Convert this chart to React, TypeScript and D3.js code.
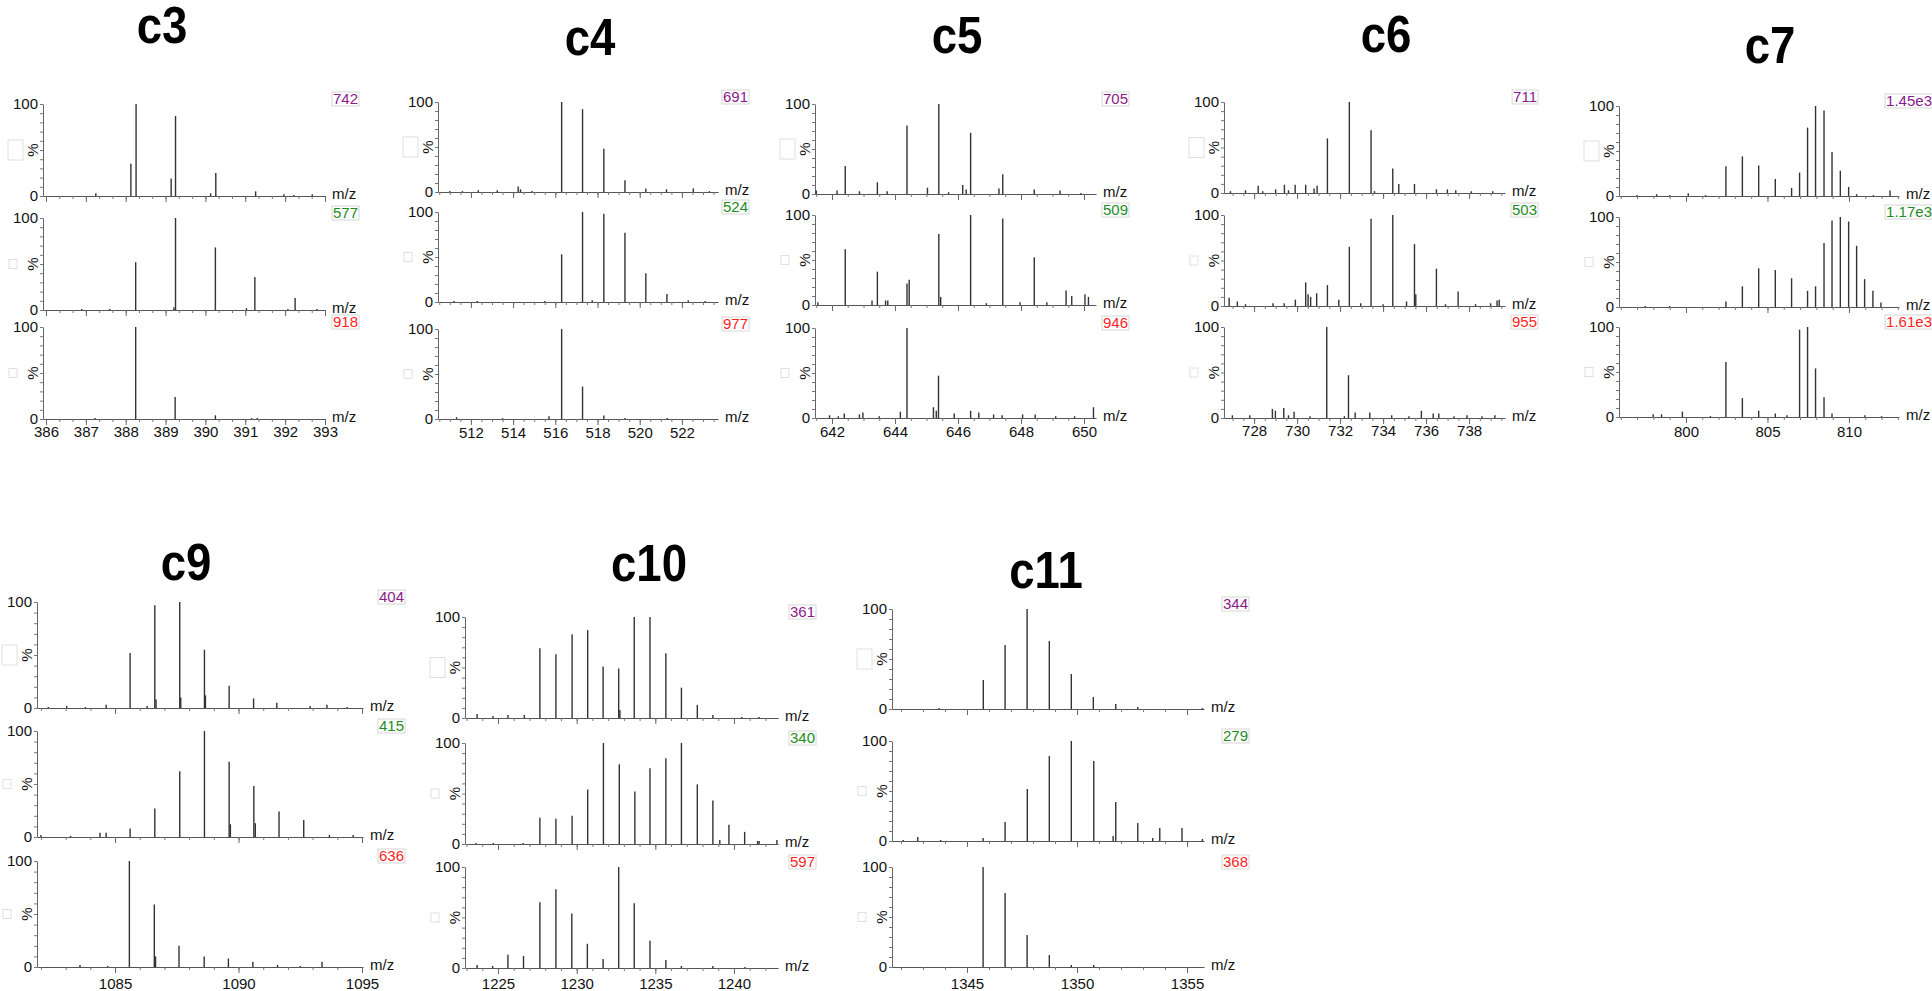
import React, { useEffect, useRef } from "react";
import * as d3 from "d3";

type Peak = [number, number];

// peak lists [m/z, relative intensity %]
const c3Top: Peak[] = [[387.25, 3], [388.13, 35], [388.26, 100], [389.14, 19], [389.25, 87], [390.13, 3], [390.26, 25], [391.26, 5], [391.97, 2], [392.22, 1], [392.68, 2]];
const c3Mid: Peak[] = [[386.9, 1], [387.6, 1], [388.25, 52], [389.21, 3], [389.25, 100], [390.25, 68], [391.03, 2], [391.24, 36], [392.07, 1], [392.25, 13], [392.8, 1]];
const c3Bot: Peak[] = [[387.23, 1], [388.25, 100], [389.24, 24], [390.25, 4], [391.16, 1], [391.3, 1]];

const c4Top: Peak[] = [[511.0, 1], [511.6, 1], [512.35, 2], [513.25, 2], [514.24, 6], [514.35, 3], [514.9, 1], [516.3, 100], [517.29, 92], [518.3, 48], [519.3, 13], [520.29, 4], [521.27, 3], [522.54, 4], [523.3, 1]];
const c4Mid: Peak[] = [[511.2, 1], [512.3, 1], [515.5, 1], [516.3, 53], [517.29, 100], [517.75, 2], [518.3, 98], [519.3, 77], [520.29, 32], [521.29, 9], [522.3, 2], [523.1, 1]];
const c4Bot: Peak[] = [[511.32, 2], [513.5, 1], [515.7, 3], [516.3, 100], [517.29, 36], [518.3, 4], [519.3, 1], [521.3, 1]];

const c5Top: Peak[] = [[641.5, 4], [642.16, 4], [642.42, 31], [642.87, 3], [643.44, 13], [643.75, 3], [644.38, 76], [645.03, 7], [645.39, 100], [645.7, 2], [646.15, 10], [646.26, 5], [646.4, 68], [647.3, 6], [647.42, 22], [648.42, 5], [649.24, 4], [649.9, 1]];
const c5Mid: Peak[] = [[641.55, 3], [642.42, 62], [643.27, 5], [643.44, 37], [643.7, 5], [643.77, 5], [644.38, 24], [644.45, 28], [645.39, 79], [645.45, 9], [646.4, 100], [646.9, 2], [647.42, 96], [647.97, 3], [648.42, 53], [648.82, 3], [649.43, 16], [649.61, 10], [650.03, 12], [650.14, 9]];
const c5Bot: Peak[] = [[641.92, 3], [642.2, 2], [642.39, 5], [642.87, 4], [642.98, 6], [643.5, 2], [644.17, 7], [644.38, 100], [645.22, 12], [645.31, 8], [645.38, 47], [645.88, 5], [646.4, 8], [646.66, 6], [647.13, 4], [647.4, 3], [648.05, 4], [648.45, 4], [649.1, 2], [649.7, 2], [650.3, 12]];

const c6Top: Peak[] = [[726.9, 2], [727.6, 3], [728.19, 8], [728.4, 2], [729.0, 4], [729.41, 9], [729.6, 3], [729.91, 9], [730.4, 9], [730.79, 5], [730.93, 8], [731.41, 60], [732.43, 100], [733.44, 69], [733.6, 2], [734.45, 27], [734.73, 10], [735.46, 10], [736.48, 4], [736.99, 4], [737.38, 3], [738.1, 2], [739.1, 2]];
const c6Mid: Peak[] = [[726.84, 9], [727.22, 5], [727.6, 2], [728.88, 3], [729.4, 3], [729.92, 7], [730.4, 26], [730.51, 13], [730.63, 10], [730.91, 14], [731.41, 23], [731.94, 7], [732.43, 65], [732.96, 3], [733.44, 96], [734.0, 2], [734.45, 100], [735.09, 5], [735.46, 68], [735.52, 13], [736.48, 41], [736.9, 2], [737.49, 16], [738.3, 2], [739.0, 3], [739.3, 6], [739.4, 7]];
const c6Bot: Peak[] = [[726.99, 3], [727.8, 3], [728.85, 10], [728.99, 8], [729.38, 11], [729.6, 3], [729.86, 7], [730.6, 2], [731.38, 100], [732.2, 2], [732.39, 47], [732.7, 6], [733.38, 6], [734.4, 3], [735.2, 2], [735.78, 8], [736.33, 5], [736.59, 5], [737.3, 2], [737.9, 3], [738.6, 2], [739.2, 3]];

const c7Top: Peak[] = [[797.0, 1], [798.2, 2], [799.0, 1], [800.14, 3], [801.2, 1], [802.45, 33], [803.46, 44], [804.46, 34], [805.48, 19], [806.48, 9], [806.97, 26], [807.46, 76], [807.95, 100], [808.47, 95], [808.96, 49], [809.47, 28], [809.98, 10], [810.47, 2], [811.5, 1], [812.52, 6]];
const c7Mid: Peak[] = [[797.5, 1], [799.0, 1], [802.45, 6], [803.46, 23], [804.46, 43], [805.48, 41], [806.48, 32], [807.46, 18], [807.95, 23], [808.47, 71], [808.96, 96], [809.47, 100], [809.98, 95], [810.47, 68], [810.96, 31], [811.47, 18], [811.96, 5]];
const c7Bot: Peak[] = [[797.99, 3], [798.5, 3], [799.78, 6], [801.5, 1], [802.45, 61], [803.46, 21], [804.46, 7], [805.48, 4], [806.2, 2], [806.97, 97], [807.46, 100], [807.95, 54], [808.47, 22], [808.96, 4], [810.98, 2], [812.0, 1]];

const c9Top: Peak[] = [[1082.3, 1], [1083.04, 2], [1083.8, 1], [1084.64, 3], [1085.61, 52], [1086.3, 2], [1086.61, 97], [1086.66, 8], [1087.62, 100], [1087.66, 10], [1088.62, 55], [1088.66, 12], [1089.62, 21], [1090.61, 9], [1091.55, 5], [1092.9, 2], [1093.58, 3], [1094.4, 1]];
const c9Mid: Peak[] = [[1082.0, 2], [1083.2, 1], [1084.39, 4], [1084.64, 4], [1085.61, 8], [1086.61, 27], [1087.62, 62], [1088.62, 100], [1089.62, 71], [1089.67, 12], [1090.62, 48], [1090.68, 13], [1091.64, 24], [1092.64, 16], [1093.68, 2], [1094.64, 2]];
const c9Bot: Peak[] = [[1083.58, 2], [1084.7, 1], [1085.58, 100], [1086.59, 59], [1086.64, 10], [1087.59, 20], [1088.61, 10], [1089.59, 8], [1090.58, 5], [1091.58, 2], [1092.5, 1], [1093.38, 5]];

const c10Top: Peak[] = [[1223.67, 4], [1224.68, 2], [1225.63, 3], [1226.67, 3], [1227.66, 69], [1228.68, 63], [1229.71, 83], [1230.7, 87], [1231.68, 51], [1232.67, 49], [1232.75, 8], [1233.66, 100], [1234.66, 100], [1235.67, 64], [1236.66, 30], [1237.67, 13], [1238.66, 3], [1240.5, 1], [1241.6, 1]];
const c10Mid: Peak[] = [[1223.6, 1], [1224.7, 1], [1226.6, 1], [1227.66, 26], [1228.68, 25], [1229.71, 28], [1230.7, 54], [1231.7, 100], [1232.71, 79], [1233.7, 52], [1234.66, 75], [1235.67, 85], [1236.66, 100], [1237.67, 59], [1238.66, 43], [1239.1, 4], [1239.68, 19], [1240.68, 12], [1241.5, 3], [1241.6, 3], [1242.73, 4]];
const c10Bot: Peak[] = [[1223.67, 3], [1224.66, 2], [1225.63, 13], [1226.62, 12], [1227.66, 65], [1228.68, 78], [1229.69, 54], [1230.68, 24], [1231.68, 9], [1232.67, 100], [1233.66, 64], [1234.66, 27], [1235.67, 8], [1236.66, 2], [1238.66, 2], [1240.7, 1]];

const c11Top: Peak[] = [[1343.73, 1], [1345.74, 29], [1346.73, 64], [1347.73, 100], [1348.74, 68], [1349.74, 35], [1350.74, 12], [1351.76, 5], [1352.76, 2], [1355.7, 1]];
const c11Mid: Peak[] = [[1342.1, 1], [1342.76, 4], [1343.8, 1], [1345.73, 3], [1346.73, 19], [1347.74, 52], [1348.74, 85], [1349.74, 100], [1350.76, 80], [1351.64, 5], [1351.76, 39], [1352.76, 18], [1353.44, 3], [1353.76, 13], [1354.77, 13], [1355.7, 2]];
const c11Bot: Peak[] = [[1345.73, 100], [1346.73, 74], [1347.73, 32], [1348.74, 12], [1349.74, 2], [1350.76, 2]];

// base peak intensities shown top right of each trace
const c3Labels = ["742", "577", "918"];
const c4Labels = ["691", "524", "977"];
const c5Labels = ["705", "509", "946"];
const c6Labels = ["711", "503", "955"];
const c7Labels = ["1.45e3", "1.17e3", "1.61e3"];
const c9Labels = ["404", "415", "636"];
const c10Labels = ["361", "340", "597"];
const c11Labels = ["344", "279", "368"];

// x tick labels
const c3Ticks = [386, 387, 388, 389, 390, 391, 392, 393];
const c4Ticks = [512, 514, 516, 518, 520, 522];
const c5Ticks = [642, 644, 646, 648, 650];
const c6Ticks = [728, 730, 732, 734, 736, 738];
const c7Ticks = [800, 805, 810];
const c9Ticks = [1085, 1090, 1095];
const c10Ticks = [1225, 1230, 1235, 1240];
const c11Ticks = [1345, 1350, 1355];

const labelColors = ["#8b1a8b", "#1e8c1e", "#ff1e1e"];

const panels = [
  { name: "c3", spectra: [c3Top, c3Mid, c3Bot], labels: c3Labels, ticks: c3Ticks, minor: 1 / 3, domain: [385.925, 393.0], x0: 43, x1: 325, rows: [104, 218, 327], h: 92, tickY: 437, title: [162, 43], labelDx: 33 },
  { name: "c4", spectra: [c4Top, c4Mid, c4Bot], labels: c4Labels, ticks: c4Ticks, minor: 0.5, domain: [510.44, 523.71], x0: 438, x1: 718, rows: [102, 212, 329], h: 90, tickY: 438, title: [590, 55], labelDx: 30 },
  { name: "c5", spectra: [c5Top, c5Mid, c5Bot], labels: c5Labels, ticks: c5Ticks, minor: 0.5, domain: [641.46, 650.38], x0: 815, x1: 1096, rows: [104, 215, 328], h: 90, tickY: 437, title: [957, 53], labelDx: 32 },
  { name: "c6", spectra: [c6Top, c6Mid, c6Bot], labels: c6Labels, ticks: c6Ticks, minor: 0.5, domain: [726.6, 739.67], x0: 1224, x1: 1505, rows: [102, 215, 327], h: 91, tickY: 436, title: [1386, 52], labelDx: 32 },
  { name: "c7", spectra: [c7Top, c7Mid, c7Bot], labels: c7Labels, ticks: c7Ticks, minor: 1, domain: [795.89, 813.07], x0: 1619, x1: 1899, rows: [106, 217, 327], h: 90, tickY: 437, title: [1770, 63], labelDx: 33 },
  { name: "c9", spectra: [c9Top, c9Mid, c9Bot], labels: c9Labels, ticks: c9Ticks, minor: 1, domain: [1081.84, 1095.04], x0: 37, x1: 363, rows: [602, 731, 861], h: 106, tickY: 989, title: [186, 580], labelDx: 41 },
  { name: "c10", spectra: [c10Top, c10Mid, c10Bot], labels: c10Labels, ticks: c10Ticks, minor: 1, domain: [1222.9, 1242.8], x0: 465, x1: 778, rows: [617, 743, 867], h: 101, tickY: 989, title: [649, 581], labelDx: 37 },
  { name: "c11", spectra: [c11Top, c11Mid, c11Bot], labels: c11Labels, ticks: c11Ticks, minor: 1, domain: [1341.59, 1355.77], x0: 892, x1: 1204, rows: [609, 741, 867], h: 100, tickY: 989, title: [1046, 588], labelDx: 44 },
];

const FONT = "'Liberation Sans', Arial, sans-serif";

const App = () => {
  const svgRef = useRef<SVGSVGElement>(null);

  useEffect(() => {
    const svg = d3.select(svgRef.current);
    svg.selectAll("*").remove();

    panels.forEach((p) => {
      const g = svg.append("g");
      const x = d3.scaleLinear().domain(p.domain).range([p.x0, p.x1]);

      // panel title (tall, slightly condensed bold)
      g.append("text")
        .attr("transform", `translate(${p.title[0]},${p.title[1]}) scale(0.97,1.12)`)
        .attr("text-anchor", "middle")
        .attr("font-size", 47)
        .attr("font-weight", "bold")
        .attr("font-family", FONT)
        .attr("fill", "#000")
        .text(p.name);

      const first = Math.ceil(p.domain[0] / p.minor - 1e-6);
      const last = Math.floor(p.domain[1] / p.minor + 1e-6);
      const minorTicks = d3.range(first, last + 1).map((k) => k * p.minor);

      p.spectra.forEach((peaks, i) => {
        const top = p.rows[i];
        const y = d3.scaleLinear().domain([0, 100]).range([top + p.h, top]);
        const row = g.append("g");

        // empty legend box left of the "%"
        const box = row.append("rect").attr("fill", "none").attr("stroke", "#e0e0e0");
        if (i === 0) {
          box.attr("x", p.x0 - 35).attr("y", y(50) - 10).attr("width", 15).attr("height", 20);
        } else {
          box.attr("x", p.x0 - 34).attr("y", y(50) - 4.5).attr("width", 8).attr("height", 9);
        }

        // y axis
        const yAx = row.append("g")
          .attr("transform", `translate(${p.x0},0)`)
          .call(
            d3.axisLeft(y)
              .tickValues(d3.range(0, 101, 10))
              .tickSize(3)
              .tickSizeOuter(0)
              .tickPadding(2)
              .tickFormat((d) => (d === 0 || d === 100 ? String(d) : ""))
          );
        yAx.selectAll("text").attr("font-size", 15).attr("font-family", FONT).attr("fill", "#111");
        yAx.selectAll("line").attr("stroke", "#777");
        yAx.select(".domain").attr("stroke", "#666");

        row.append("text")
          .attr("transform", `translate(${p.x0 - 11},${y(50)}) rotate(-90)`)
          .attr("text-anchor", "middle")
          .attr("dominant-baseline", "central")
          .attr("font-size", 15)
          .attr("font-family", FONT)
          .attr("fill", "#111")
          .text("%");

        // x axis: minor then major ticks
        const xMinor = row.append("g")
          .attr("transform", `translate(0,${y(0)})`)
          .call(d3.axisBottom(x).tickValues(minorTicks).tickSize(3).tickSizeOuter(0).tickFormat(() => ""));
        xMinor.selectAll("line").attr("stroke", "#777");
        xMinor.select(".domain").attr("stroke", "#555");

        const xMajor = row.append("g")
          .attr("transform", `translate(0,${y(0)})`)
          .call(
            d3.axisBottom(x)
              .tickValues(p.ticks)
              .tickSize(6)
              .tickSizeOuter(0)
              .tickFormat((d) => (i === 2 ? String(d) : ""))
          );
        xMajor.select(".domain").remove();
        xMajor.selectAll("line").attr("stroke", "#666");
        xMajor.selectAll("text")
          .attr("font-size", 15)
          .attr("font-family", FONT)
          .attr("fill", "#111")
          .attr("dy", null)
          .attr("y", p.tickY - y(0));

        row.append("text")
          .attr("x", p.x1 + 7)
          .attr("y", y(0) + 3)
          .attr("font-size", 15)
          .attr("font-family", FONT)
          .attr("fill", "#111")
          .text("m/z");

        // sticks
        row.append("g")
          .selectAll("line")
          .data(peaks)
          .join("line")
          .attr("x1", (d) => x(d[0]))
          .attr("x2", (d) => x(d[0]))
          .attr("y1", y(0))
          .attr("y2", (d) => y(d[1]))
          .attr("stroke", "#333")
          .attr("stroke-width", 1.4);

        // intensity label with a faint box
        const frame = row.append("rect").attr("fill", "#fff").attr("stroke", "#d6d6d6");
        const lab = row.append("text")
          .attr("x", p.x1 + p.labelDx)
          .attr("y", top)
          .attr("text-anchor", "end")
          .attr("font-size", 15)
          .attr("font-family", FONT)
          .attr("fill", labelColors[i])
          .text(p.labels[i]);
        const bb = (lab.node() as SVGTextElement).getBBox();
        frame
          .attr("x", bb.x - 1)
          .attr("y", bb.y + 2)
          .attr("width", bb.width + 2)
          .attr("height", bb.height - 3);
      });
    });
  }, []);

  return (
    <svg
      ref={svgRef}
      width={1932}
      height={991}
      style={{ position: "absolute", left: 0, top: 0, background: "#fff", display: "block" }}
    />
  );
};

export default App;
